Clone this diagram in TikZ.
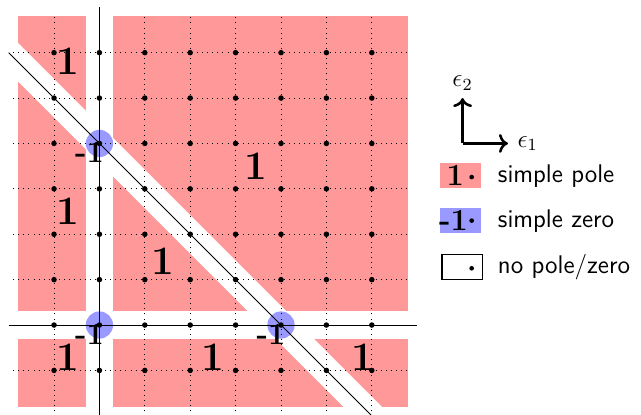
\documentclass[tikz,border=0pt]{standalone}
\usepackage{amsmath,amssymb}
\usetikzlibrary{positioning,arrows.meta}
\colorlet{polecol}{red!40}
\colorlet{zerocol}{blue!40}

\begin{document}
\begin{tikzpicture}[x=0.75cm,y=0.75cm,
  poletxt/.style={font=\fontsize{19}{22}\selectfont\bfseries,inner sep=0pt},
  zerotxt/.style={font=\Large\bfseries,inner sep=0pt},
  legtxt/.style={anchor=west,font=\large\sffamily,inner sep=0pt},
  legbox/.style={minimum width=0.9*0.75cm,minimum height=0.55*0.75cm,inner sep=0pt}]
\useasboundingbox (-2.19,-1.96) rectangle (11.93,7.16);
% pole regions, cut by the three lines
\fill[polecol] (-1.8,-1.8) rectangle (6.8,6.8);
\fill[white] (-0.3,-2) rectangle (0.3,7);
\fill[white] (-2,-0.3) rectangle (7,0.3);
\fill[white] (-2,6.424) -- (7,-2.576) -- (7,-3.424) -- (-2,5.576) -- cycle;
% zeros
\foreach \x/\y in {0/4,0/0,4/0}
  \fill[zerocol] (\x,\y) circle (0.3);
\draw[dotted,step=1] (-1.9,-1.9) grid (6.8,6.8);
\draw (-2,0) -- (7,0);
\draw (0,-2) -- (0,7);
\draw (-2,6) -- (6,-2);
\foreach \x in {-1,...,6}
  \foreach \y in {-1,...,6}
    \fill (\x,\y) circle (1.3pt);
% orders
\node[poletxt] (p1) at (-0.7,5.8) {1};
\node[poletxt] (p2) at (3.45,3.5) {1};
\node[poletxt] (p3) at (-0.7,2.5) {1};
\node[poletxt] (p4) at (1.4,1.4) {1};
\node[poletxt] (p5) at (-0.7,-0.7) {1};
\node[poletxt] (p6) at (2.5,-0.7) {1};
\node[poletxt] (p7) at (5.8,-0.7) {1};
\node[zerotxt] (z1) at (-0.22,3.8) {-1};
\node[zerotxt] (z2) at (-0.22,-0.2) {-1};
\node[zerotxt] (z3) at (3.78,-0.2) {-1};
% directions
\coordinate (corner) at (8,4);
\coordinate (e1end) at (9,4);
\coordinate (e2end) at (8,5);
\draw[->,very thick] (corner) -- (e1end);
\draw[->,very thick] (corner) -- (e2end);
\node[right=1pt of e1end,font=\large] (e1) {$\epsilon_1$};
\node[above=0pt of e2end,font=\large] (e2) {$\epsilon_2$};
% legend
\node[legbox,fill=polecol] (kpole) at (7.95,3.29) {};
\node[legbox,fill=zerocol] (kzero) at (7.95,2.3) {};
\node[legbox,draw,thick] (knone) at (7.99,1.28) {};
\foreach \y in {3.26,2.3,1.25}
  \fill (8.2,\y) circle (1.1pt);
\node[zerotxt] (kp) at (7.84,3.29) {1};
\node[zerotxt] (kz) at (7.8,2.3) {-1};
\node[legtxt] (tpole) at (8.77,3.28) {simple pole};
\node[legtxt] (tzero) at (8.77,2.28) {simple zero};
\node[legtxt] (tnone) at (8.77,1.28) {no pole/zero};
\end{tikzpicture}
\end{document}
